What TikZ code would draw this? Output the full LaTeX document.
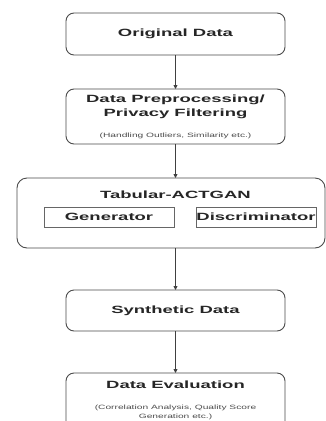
\documentclass[tikz,border=0pt]{standalone}
\usepackage{fontspec}
\usetikzlibrary{arrows.meta}
\newfontfamily\wb[FakeStretch=1.76]{Liberation Sans}
\newfontfamily\wn[FakeStretch=1.65]{Liberation Sans}
\begin{document}
\begin{tikzpicture}[x=1pt,y=-1pt,
  box/.style={draw=black!70,line width=0.9pt,rounded corners=8pt},
  inbox/.style={draw=black!60,line width=0.7pt},
  ttl/.style={font=\wb\bfseries\fontsize{10.5}{12}\selectfont,text=black!85,inner sep=0pt},
  sub/.style={font=\wn\fontsize{6.2}{7.5}\selectfont,text=black!70,inner sep=0pt,align=center},
  arr/.style={draw=black!75,line width=0.8pt,-{Triangle[length=4pt,width=4pt]}}]
\useasboundingbox (0,0) rectangle (326,421);
\clip (0,0) rectangle (326,421);
\fill[white] (0,0) rectangle (326,421);
% boxes
\draw[box] (66,13) rectangle (285,55);
\coordinate (b1t) at (175.5,55);
\draw[box] (66,89) rectangle (285,144);
\coordinate (b2t) at (175.5,89);
\coordinate (b2b) at (175.5,144);
\draw[box,rounded corners=10pt] (17,178) rectangle (325,248);
\coordinate (b3t) at (175.5,178);
\coordinate (b3b) at (175.5,248);
\draw[box] (66,290) rectangle (285,331);
\coordinate (b4t) at (175.5,290);
\coordinate (b4b) at (175.5,331);
\draw[box] (66,373) rectangle (285,445);
\coordinate (b5t) at (175.5,373);
% texts
\node[ttl] (t1) at (175.5,34) {Original Data};
\node[ttl] (t2a) at (175.5,100) {Data Preprocessing/};
\node[ttl] (t2b) at (175.5,113.5) {Privacy Filtering};
\node[sub] (t2c) at (175.5,136) {(Handling Outliers, Similarity etc.)};
\node[ttl] (t3) at (175.5,195) {Tabular-ACTGAN};
\node[inbox,minimum width=130pt,minimum height=20pt,inner sep=0pt] (gen) at (109,217) {};
\node[ttl] (gent) at (109,217) {Generator};
\node[inbox,minimum width=120pt,minimum height=20pt,inner sep=0pt] (dis) at (256,217) {};
\node[ttl] (dist) at (256,217) {Discriminator};
\node[ttl] (t4) at (175.5,310.5) {Synthetic Data};
\node[ttl] (t5) at (175.5,385) {Data Evaluation};
\node[sub] (t5b) at (175.5,408) {(Correlation Analysis, Quality Score};
\node[sub] (t5c) at (175.5,417) {Generation etc.)};
% arrows
\draw[arr] (b1t) -- (b2t);
\draw[arr] (b2b) -- (b3t);
\draw[arr] (b3b) -- (b4t);
\draw[arr] (b4b) -- (b5t);
\end{tikzpicture}
\end{document}
